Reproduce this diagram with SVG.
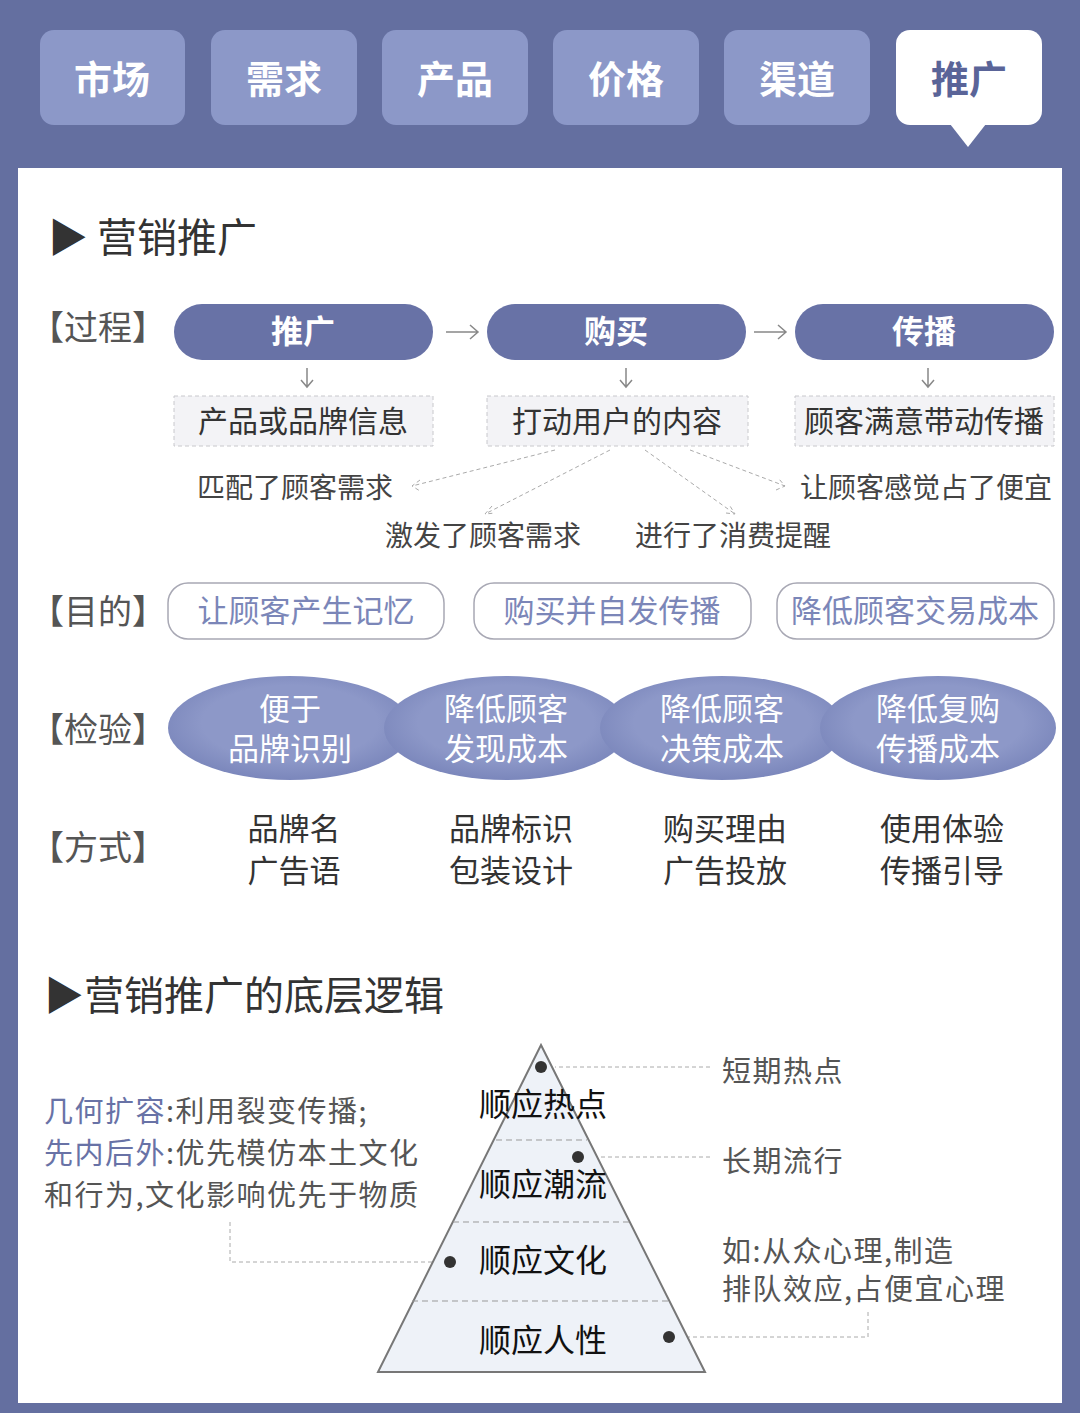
<svg xmlns="http://www.w3.org/2000/svg" width="1080" height="1413" viewBox="0 0 1080 1413">
<defs>
<style>
text{font-family:"Noto Sans CJK SC","Noto Sans",sans-serif}
.tab{fill:#8c98c8}
.tabt{fill:#fff;font-size:38px;font-weight:700;text-anchor:middle}
.pill{fill:#6872a6}
.pillt{fill:#fff;font-size:32px;font-weight:700;text-anchor:middle}
.box{fill:#f3f3f6;stroke:#c8c8cc;stroke-dasharray:4 3}
.boxt{fill:#333;font-size:30px;text-anchor:middle}
.lbl{fill:#555;font-size:34px}
.note{fill:#444;font-size:28px;text-anchor:middle}
.aim{fill:#fff;stroke:#a8a8b4;stroke-width:1.5}
.aimt{fill:#7b86b8;font-size:31px;text-anchor:middle}
.ell{fill:url(#eg)}
.ellt{fill:#fff;font-size:31px;text-anchor:middle}
.way{fill:#333;font-size:31px;text-anchor:middle}
.ar{stroke:#888;stroke-width:1.5;fill:none}
.dl{stroke:#aaa;stroke-width:1;fill:none;stroke-dasharray:4 3}
.py{fill:#111;font-size:32px;text-anchor:middle}
.side{fill:#555;font-size:29px;letter-spacing:1.5px}
</style>
<radialGradient id="eg" cx="0.5" cy="0.45" r="0.6"><stop offset="0.6" stop-color="#8d98c8"/><stop offset="1" stop-color="#7682b8"/></radialGradient>
</defs>
<rect width="1080" height="1413" fill="#646fa0"/>
<rect x="18" y="168" width="1044" height="1235" fill="#fff"/>
<g id="tabs">
<rect class="tab" x="40" y="30" width="145" height="95" rx="14"/><text class="tabt" x="112" y="93">市场</text>
<rect class="tab" x="211" y="30" width="146" height="95" rx="14"/><text class="tabt" x="284" y="93">需求</text>
<rect class="tab" x="382" y="30" width="146" height="95" rx="14"/><text class="tabt" x="455" y="93">产品</text>
<rect class="tab" x="553" y="30" width="146" height="95" rx="14"/><text class="tabt" x="626" y="93">价格</text>
<rect class="tab" x="724" y="30" width="146" height="95" rx="14"/><text class="tabt" x="797" y="93">渠道</text>
<rect x="896" y="30" width="146" height="95" rx="14" fill="#fff"/><path d="M950 124 L968 147 L986 124Z" fill="#fff"/><text class="tabt" x="969" y="93" style="fill:#5a6498">推广</text>
</g>
<text x="48" y="252" font-size="40" fill="#333">▶ 营销推广</text>
<text class="lbl" x="30" y="340">【过程】</text>
<text class="lbl" x="30" y="624">【目的】</text>
<text class="lbl" x="30" y="742">【检验】</text>
<text class="lbl" x="30" y="860">【方式】</text>
<g id="n-tg"><rect class="pill" x="174" y="304" width="259" height="56" rx="28"/><text class="pillt" x="303" y="343">推广</text></g>
<g id="n-gm"><rect class="pill" x="487" y="304" width="259" height="56" rx="28"/><text class="pillt" x="616" y="343">购买</text></g>
<g id="n-cb"><rect class="pill" x="795" y="304" width="259" height="56" rx="28"/><text class="pillt" x="924" y="343">传播</text></g>
<g id="n-b1"><rect class="box" x="174" y="396" width="259" height="50"/><text class="boxt" x="303" y="432">产品或品牌信息</text></g>
<g id="n-b2"><rect class="box" x="487" y="396" width="261" height="50"/><text class="boxt" x="617" y="432">打动用户的内容</text></g>
<g id="n-b3"><rect class="box" x="795" y="396" width="259" height="50"/><text class="boxt" x="924" y="432">顾客满意带动传播</text></g>
<g id="notes">
<text class="note" x="295" y="498">匹配了顾客需求</text>
<text class="note" x="926" y="498">让顾客感觉占了便宜</text>
<text class="note" x="483" y="546">激发了顾客需求</text>
<text class="note" x="733" y="546">进行了消费提醒</text>
</g>
<g id="connectors">
<path class="ar" d="M446 332 H478 M470 325 L478 332 L470 339"/>
<path class="ar" d="M754 332 H786 M778 325 L786 332 L778 339"/>
<path class="ar" d="M307 368 V387 M301 380 L307 387 L313 380"/>
<path class="ar" d="M626 368 V387 M620 380 L626 387 L632 380"/>
<path class="ar" d="M928 368 V387 M922 380 L928 387 L934 380"/>
<path class="dl" d="M555 450 L412 486 M420 480 L412 486 L420 491"/>
<path class="dl" d="M610 450 L485 514 M492 506 L485 514 L495 513"/>
<path class="dl" d="M645 450 L735 514 M726 513 L735 514 L730 506"/>
<path class="dl" d="M690 450 L785 486 M776 490 L785 486 L779 479"/>
<path class="dl" d="M710 1067 H555 M710 1157 H578 M230 1222 V1262 H450 M868 1312 V1337 H670"/>
</g>
<g id="aims">
<rect class="aim" x="168" y="583" width="276" height="56" rx="20"/><text class="aimt" x="306" y="622">让顾客产生记忆</text>
<rect class="aim" x="474" y="583" width="277" height="56" rx="20"/><text class="aimt" x="612" y="622">购买并自发传播</text>
<rect class="aim" x="777" y="583" width="277" height="56" rx="20"/><text class="aimt" x="915" y="622">降低顾客交易成本</text>
</g>
<g id="checks">
<ellipse class="ell" cx="290" cy="728" rx="122" ry="52"/><text class="ellt" x="290" y="720">便于</text><text class="ellt" x="290" y="760">品牌识别</text>
<ellipse class="ell" cx="506" cy="728" rx="122" ry="52"/><text class="ellt" x="506" y="720">降低顾客</text><text class="ellt" x="506" y="760">发现成本</text>
<ellipse class="ell" cx="722" cy="728" rx="122" ry="52"/><text class="ellt" x="722" y="720">降低顾客</text><text class="ellt" x="722" y="760">决策成本</text>
<ellipse class="ell" cx="938" cy="728" rx="118" ry="52"/><text class="ellt" x="938" y="720">降低复购</text><text class="ellt" x="938" y="760">传播成本</text>
</g>
<g id="ways">
<text class="way" x="294" y="840">品牌名</text><text class="way" x="294" y="882">广告语</text>
<text class="way" x="511" y="840">品牌标识</text><text class="way" x="511" y="882">包装设计</text>
<text class="way" x="725" y="840">购买理由</text><text class="way" x="725" y="882">广告投放</text>
<text class="way" x="942" y="840">使用体验</text><text class="way" x="942" y="882">传播引导</text>
</g>
<text x="44" y="1010" font-size="40" fill="#333">▶营销推广的底层逻辑</text>
<g id="pyramid">
<path d="M541 1045 L705 1372 L378 1372Z" fill="#eef2f8" stroke="#777" stroke-width="2"/>
<path d="M496 1140 H587 M453 1222 H629 M412 1301 H668" stroke="#999" stroke-dasharray="6 4"/>
<circle cx="541" cy="1067" r="6" fill="#333"/><circle cx="578" cy="1157" r="6" fill="#333"/><circle cx="450" cy="1262" r="6" fill="#333"/><circle cx="669" cy="1337" r="6" fill="#333"/>
<text class="py" x="543" y="1116">顺应热点</text>
<text class="py" x="543" y="1196">顺应潮流</text>
<text class="py" x="543" y="1272">顺应文化</text>
<text class="py" x="543" y="1352">顺应人性</text>
</g>
<g id="sides">
<text class="side" x="722" y="1082">短期热点</text>
<text class="side" x="722" y="1172">长期流行</text>
<text class="side" x="722" y="1262">如:从众心理,制造</text>
<text class="side" x="722" y="1300">排队效应,占便宜心理</text>
<text class="side" x="44" y="1122"><tspan fill="#6872a6">几何扩容</tspan>:利用裂变传播;</text>
<text class="side" x="44" y="1164"><tspan fill="#6872a6">先内后外</tspan>:优先模仿本土文化</text>
<text class="side" x="44" y="1206">和行为,文化影响优先于物质</text>
</g>
</svg>
